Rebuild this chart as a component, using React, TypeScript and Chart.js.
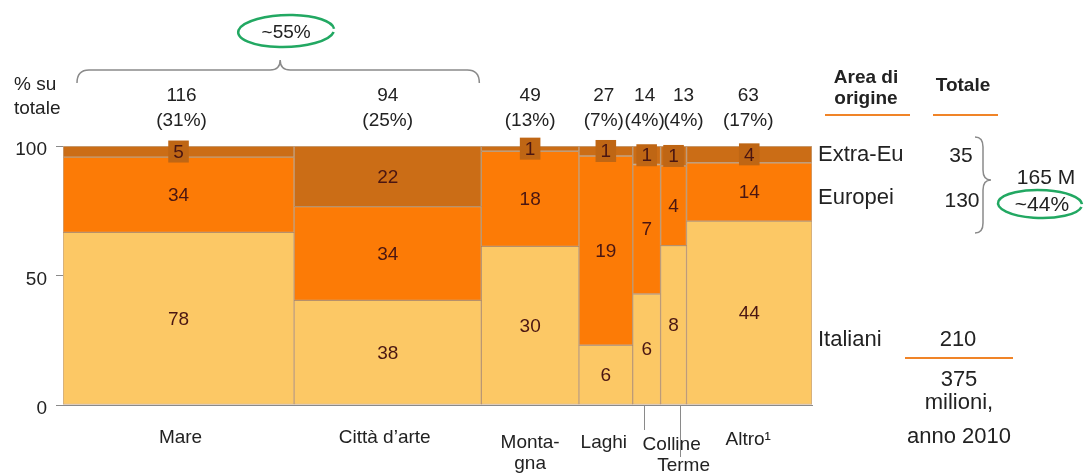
import React, { useEffect, useRef } from 'react';
import { Chart, registerables } from 'chart.js';

Chart.register(...registerables);

// ---------- data ----------
const CATEGORIES = ['Mare', 'Città d’arte', 'Montagna', 'Laghi', 'Colline', 'Terme', 'Altro'];
const AXIS_LABELS = [['Mare'], ['Città d’arte'], ['Monta-', 'gna'], ['Laghi'], ['Colline'], ['Terme'], ['Altro¹']];
const CATEGORY_TOTALS = [116, 94, 49, 27, 14, 13, 63];
const CATEGORY_SHARES = ['31%', '25%', '13%', '7%', '4%', '4%', '17%'];
const ITALIANI = [78, 38, 30, 6, 6, 8, 44];
const EUROPEI = [34, 34, 18, 19, 7, 4, 14];
const EXTRA_EU = [5, 22, 1, 1, 1, 1, 4];
const Y_TICKS = [0, 50, 100];
const ORIGIN_NAMES = ['Extra-Eu', 'Europei', 'Italiani'];
const ORIGIN_TOTALS = [35, 130, 210];
const FOREIGN_TOTAL = '165 M';
const FOREIGN_SHARE = '~44%';
const TOP_TWO_SHARE = '~55%';
const GRAND_TOTAL_LINES = ['375', 'milioni,', 'anno 2010'];

// ---------- styles ----------
const FONT = '"Liberation Sans", Arial, sans-serif';
const C_IT = '#FCC865';
const C_EU = '#FC7B06';
const C_EX = '#CB6D16';
const C_BOX = '#BF6614';
const C_BORDER = 'rgba(150,95,40,0.55)';
const C_TEXT = '#222222';
const C_INNER = '#4A1612';
const C_GREEN = '#22A862';
const C_ORANGE_LINE = '#F08428';
const C_GRAY = '#8a8a8a';

// label placement tweaks (pixels)
const TOP_NUDGE = [3, 0, 0, -2, -2, 10, -1];
const BOTTOM_LAYOUT = [
  { dx: 2, y: 438 },
  { dx: -3, y: 438 },
  { dx: 0, y: 443 },
  { dx: -2, y: 443 },
  { dx: 25, y: 445, leaderDx: -3, leaderEnd: 430 },
  { dx: 10, y: 466, leaderDx: 6, leaderEnd: 457 },
  { dx: -1, y: 440 },
];

const SUM_ALL = CATEGORY_TOTALS.reduce((a, b) => a + b, 0);
const STARTS = CATEGORY_TOTALS.map((_, i) => CATEGORY_TOTALS.slice(0, i).reduce((a, b) => a + b, 0));
const CENTERS = CATEGORY_TOTALS.map((t, i) => STARTS[i] + t / 2);

function buildDatasets() {
  return CATEGORIES.map((name, i) => {
    const it = ITALIANI[i];
    const eu = EUROPEI[i];
    const ex = EXTRA_EU[i];
    const sum = it + eu + ex;
    const p1 = (it / sum) * 100;
    const p2 = ((it + eu) / sum) * 100;
    return {
      label: name,
      data: [
        { x: CENTERS[i], y: [0, p1] },
        { x: CENTERS[i], y: [p1, p2] },
        { x: CENTERS[i], y: [p2, 100] },
      ],
      rawValues: [it, eu, ex],
      backgroundColor: [C_IT, C_EU, C_EX],
      borderColor: C_BORDER,
      borderWidth: 1,
      borderSkipped: false,
      grouped: false,
      barThickness: 20,
    } as any;
  });
}

const widthPlugin = {
  id: 'mekkoWidths',
  afterLayout(chart: any) {
    const xs = chart.scales.x;
    chart.data.datasets.forEach((ds: any, i: number) => {
      ds.barThickness = Math.abs(xs.getPixelForValue(CATEGORY_TOTALS[i]) - xs.getPixelForValue(0));
    });
  },
};

const valuesPlugin = {
  id: 'mekkoValues',
  afterDatasetsDraw(chart: any) {
    const ctx = chart.ctx;
    ctx.save();
    ctx.font = `19px ${FONT}`;
    ctx.textAlign = 'center';
    ctx.textBaseline = 'middle';
    chart.data.datasets.forEach((ds: any, i: number) => {
      const meta = chart.getDatasetMeta(i);
      meta.data.forEach((el: any, j: number) => {
        const { x, y, base } = el.getProps(['x', 'y', 'base'], true);
        const top = Math.min(y, base);
        const bot = Math.max(y, base);
        const cy = (top + bot) / 2;
        const txt = String(ds.rawValues[j]);
        if (bot - top < 22) {
          const w = ctx.measureText(txt).width + 10;
          ctx.fillStyle = C_BOX;
          ctx.fillRect(x - w / 2, cy - 11, w, 22);
        }
        ctx.fillStyle = C_INNER;
        ctx.fillText(txt, x, cy + 1);
      });
    });
    ctx.restore();
  },
};

function ellipse(ctx: CanvasRenderingContext2D, cx: number, cy: number, rx: number, ry: number, rot: number) {
  ctx.save();
  ctx.strokeStyle = C_GREEN;
  ctx.lineWidth = 2.5;
  ctx.beginPath();
  ctx.ellipse(cx, cy, rx, ry, rot, 0.15, Math.PI * 2 - 0.05);
  ctx.stroke();
  ctx.restore();
}

const annotationsPlugin = {
  id: 'mekkoAnnotations',
  afterDraw(chart: any) {
    const ctx: CanvasRenderingContext2D = chart.ctx;
    const xs = chart.scales.x;
    const area = chart.chartArea;
    ctx.save();
    ctx.textAlign = 'center';
    ctx.textBaseline = 'middle';
    ctx.fillStyle = C_TEXT;

    // axis title
    ctx.font = `19px ${FONT}`;
    ctx.textAlign = 'left';
    ctx.fillText('% su', 14, 85);
    ctx.fillText('totale', 14, 109);
    ctx.textAlign = 'center';

    // top totals
    CATEGORY_TOTALS.forEach((t, i) => {
      const x = xs.getPixelForValue(CENTERS[i]) + TOP_NUDGE[i];
      ctx.fillText(String(t), x, 96);
      ctx.fillText(`(${CATEGORY_SHARES[i]})`, x, 121);
    });

    // bottom labels
    AXIS_LABELS.forEach((lines, i) => {
      const lay = BOTTOM_LAYOUT[i];
      const cx = xs.getPixelForValue(CENTERS[i]);
      lines.forEach((ln, k) => ctx.fillText(ln, cx + lay.dx, lay.y + k * 21));
      if (lay.leaderDx !== undefined) {
        ctx.save();
        ctx.strokeStyle = C_GRAY;
        ctx.lineWidth = 1;
        ctx.beginPath();
        ctx.moveTo(Math.round(cx + lay.leaderDx) + 0.5, area.bottom + 1);
        ctx.lineTo(Math.round(cx + lay.leaderDx) + 0.5, lay.leaderEnd!);
        ctx.stroke();
        ctx.restore();
      }
    });

    // brace over Mare + Città d'arte
    const bx0 = xs.getPixelForValue(STARTS[0]) + 14;
    const bx1 = xs.getPixelForValue(STARTS[2]) - 2;
    const bmid = (bx0 + bx1) / 2 + 2;
    ctx.save();
    ctx.strokeStyle = C_GRAY;
    ctx.lineWidth = 1.5;
    ctx.beginPath();
    ctx.moveTo(bx0, 83);
    ctx.quadraticCurveTo(bx0, 70, bx0 + 12, 70);
    ctx.lineTo(bmid - 10, 70);
    ctx.quadraticCurveTo(bmid, 70, bmid, 60);
    ctx.quadraticCurveTo(bmid, 70, bmid + 10, 70);
    ctx.lineTo(bx1 - 12, 70);
    ctx.quadraticCurveTo(bx1, 70, bx1, 83);
    ctx.stroke();
    ctx.restore();

    ctx.font = `19px ${FONT}`;
    ctx.fillText(TOP_TWO_SHARE, bmid + 6, 33);
    ellipse(ctx, bmid + 6, 31, 48, 16, -0.03);

    // right-side legend
    ctx.font = `bold 19px ${FONT}`;
    ctx.fillText('Area di', 866, 78);
    ctx.fillText('origine', 866, 99);
    ctx.fillText('Totale', 963, 86);
    ctx.save();
    ctx.strokeStyle = C_ORANGE_LINE;
    ctx.lineWidth = 2;
    ctx.beginPath();
    ctx.moveTo(825, 115); ctx.lineTo(910, 115);
    ctx.moveTo(933, 115); ctx.lineTo(998, 115);
    ctx.stroke();
    ctx.restore();

    ctx.font = `22px ${FONT}`;
    ctx.textAlign = 'left';
    const nameY = [155, 198, 340];
    ORIGIN_NAMES.forEach((n, k) => ctx.fillText(n, 818, nameY[k]));
    ctx.textAlign = 'center';
    ctx.font = `21px ${FONT}`;
    ctx.fillText(String(ORIGIN_TOTALS[0]), 961, 156);
    ctx.fillText(String(ORIGIN_TOTALS[1]), 962, 201);
    ctx.font = `22px ${FONT}`;
    ctx.fillText(String(ORIGIN_TOTALS[2]), 958, 340);

    // vertical brace
    ctx.save();
    ctx.strokeStyle = C_GRAY;
    ctx.lineWidth = 1.5;
    ctx.beginPath();
    ctx.moveTo(975, 137);
    ctx.quadraticCurveTo(983, 137, 983, 147);
    ctx.lineTo(983, 170);
    ctx.quadraticCurveTo(983, 180, 991, 180);
    ctx.quadraticCurveTo(983, 180, 983, 190);
    ctx.lineTo(983, 223);
    ctx.quadraticCurveTo(983, 233, 975, 233);
    ctx.stroke();
    ctx.restore();

    ctx.font = `21px ${FONT}`;
    ctx.fillText(FOREIGN_TOTAL, 1046, 178);
    ctx.fillText(FOREIGN_SHARE, 1042, 205);
    ellipse(ctx, 1040, 204, 42, 14, 0.02);

    // total line
    ctx.save();
    ctx.strokeStyle = C_ORANGE_LINE;
    ctx.lineWidth = 2;
    ctx.beginPath();
    ctx.moveTo(905, 358); ctx.lineTo(1013, 358);
    ctx.stroke();
    ctx.restore();
    ctx.font = `22px ${FONT}`;
    const gy = [380, 403, 437];
    GRAND_TOTAL_LINES.forEach((ln, k) => ctx.fillText(ln, 959, gy[k]));

    ctx.restore();
  },
};

export default function App() {
  const ref = useRef<HTMLCanvasElement>(null);

  useEffect(() => {
    if (!ref.current) return;
    const chart = new Chart(ref.current, {
      type: 'bar',
      data: { datasets: buildDatasets() },
      options: {
        responsive: false,
        devicePixelRatio: 1,
        animation: false,
        events: [],
        layout: { padding: { top: 146, left: 8, right: 274, bottom: 70 } },
        plugins: { legend: { display: false }, tooltip: { enabled: false } },
        scales: {
          x: {
            type: 'linear',
            min: 0,
            max: SUM_ALL,
            offset: false,
            ticks: { display: false },
            grid: { display: false, drawTicks: false },
            border: { display: true, color: C_GRAY, width: 1 },
            afterFit: (s: any) => { s.height = 0; },
          },
          y: {
            min: 0,
            max: 100,
            afterBuildTicks: (s: any) => { s.ticks = Y_TICKS.map((v) => ({ value: v })); },
            ticks: { color: C_TEXT, font: { size: 19, family: FONT }, padding: 9, labelOffset: 4 },
            grid: { drawOnChartArea: false, tickLength: 7, color: C_GRAY },
            border: { display: false },
            afterFit: (s: any) => { s.width = 55; },
          },
        },
      } as any,
      plugins: [widthPlugin, valuesPlugin, annotationsPlugin],
    });
    return () => chart.destroy();
  }, []);

  return (
    <div style={{ position: 'fixed', left: 0, top: 0, width: 1086, height: 475, background: '#fff' }}>
      <canvas ref={ref} width={1086} height={475} style={{ display: 'block' }} />
    </div>
  );
}
